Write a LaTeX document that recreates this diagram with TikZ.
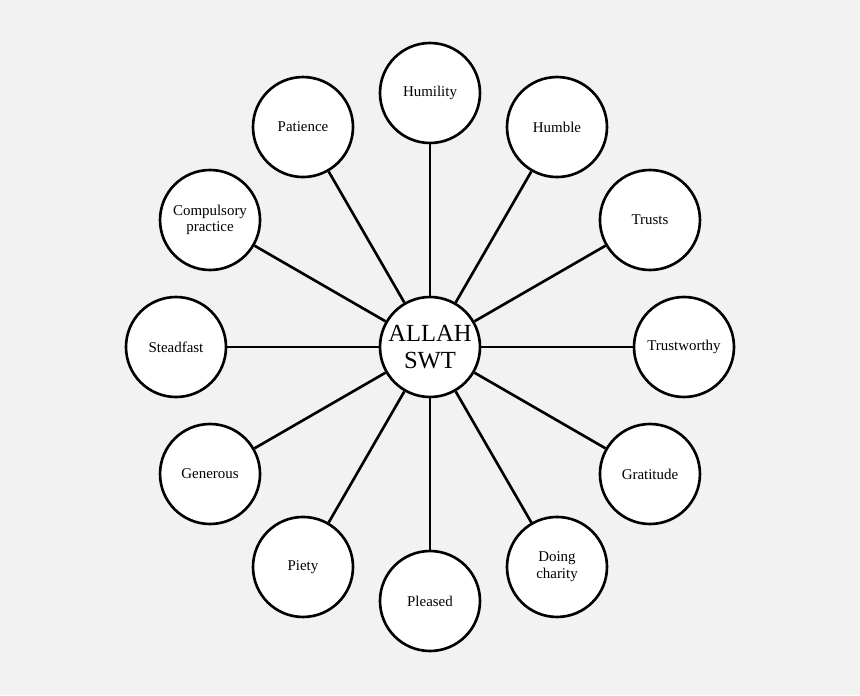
\documentclass[tikz,border=0pt]{standalone}
\usepackage{fontspec}
\setmainfont{Liberation Serif}
\usepackage{xcolor}
\usetikzlibrary{positioning,calc}
\definecolor{paperbg}{RGB}{242,242,242}

\begin{document}
\begin{tikzpicture}[
    value/.style={circle,draw=black,fill=white,line width=1.5pt,minimum size=2cm,inner sep=1pt,align=center,font=\fontsize{8.5}{9.5}\selectfont},
    core/.style={circle,draw=black,fill=white,line width=1.5pt,minimum size=2cm,inner sep=1pt,align=center,font=\fontsize{14}{15}\selectfont},
    spoke/.style={line width=1.5pt}
]
    % background
    \fill[paperbg] (0,0) rectangle (17.2,13.9);
    \useasboundingbox (0,0) rectangle (17.2,13.9);

    % centre
    \coordinate (c) at (8.6,6.96);
    \node[core] (allah) at (c) {ALLAH\\SWT};

    % values around the centre
    \node[value] (humility) at ($(c)+(90:5.08)$) {Humility};
    \node[value] (humble) at ($(c)+(60:5.08)$) {Humble};
    \node[value] (trusts) at ($(c)+(30:5.08)$) {Trusts};
    \node[value] (trustworthy) at ($(c)+(0:5.08)$) {Trustworthy};
    \node[value] (gratitude) at ($(c)+(-30:5.08)$) {Gratitude};
    \node[value] (charity) at ($(c)+(-60:5.08)$) {Doing\\charity};
    \node[value] (pleased) at ($(c)+(-90:5.08)$) {Pleased};
    \node[value] (piety) at ($(c)+(-120:5.08)$) {Piety};
    \node[value] (generous) at ($(c)+(-150:5.08)$) {Generous};
    \node[value] (steadfast) at ($(c)+(180:5.08)$) {Steadfast};
    \node[value] (practice) at ($(c)+(150:5.08)$) {Compulsory\\practice};
    \node[value] (patience) at ($(c)+(120:5.08)$) {Patience};

    % spokes
    \draw[spoke] (allah) -- (humility);
    \draw[spoke] (allah) -- (humble);
    \draw[spoke] (allah) -- (trusts);
    \draw[spoke] (allah) -- (trustworthy);
    \draw[spoke] (allah) -- (gratitude);
    \draw[spoke] (allah) -- (charity);
    \draw[spoke] (allah) -- (pleased);
    \draw[spoke] (allah) -- (piety);
    \draw[spoke] (allah) -- (generous);
    \draw[spoke] (allah) -- (steadfast);
    \draw[spoke] (allah) -- (practice);
    \draw[spoke] (allah) -- (patience);
\end{tikzpicture}
\end{document}
